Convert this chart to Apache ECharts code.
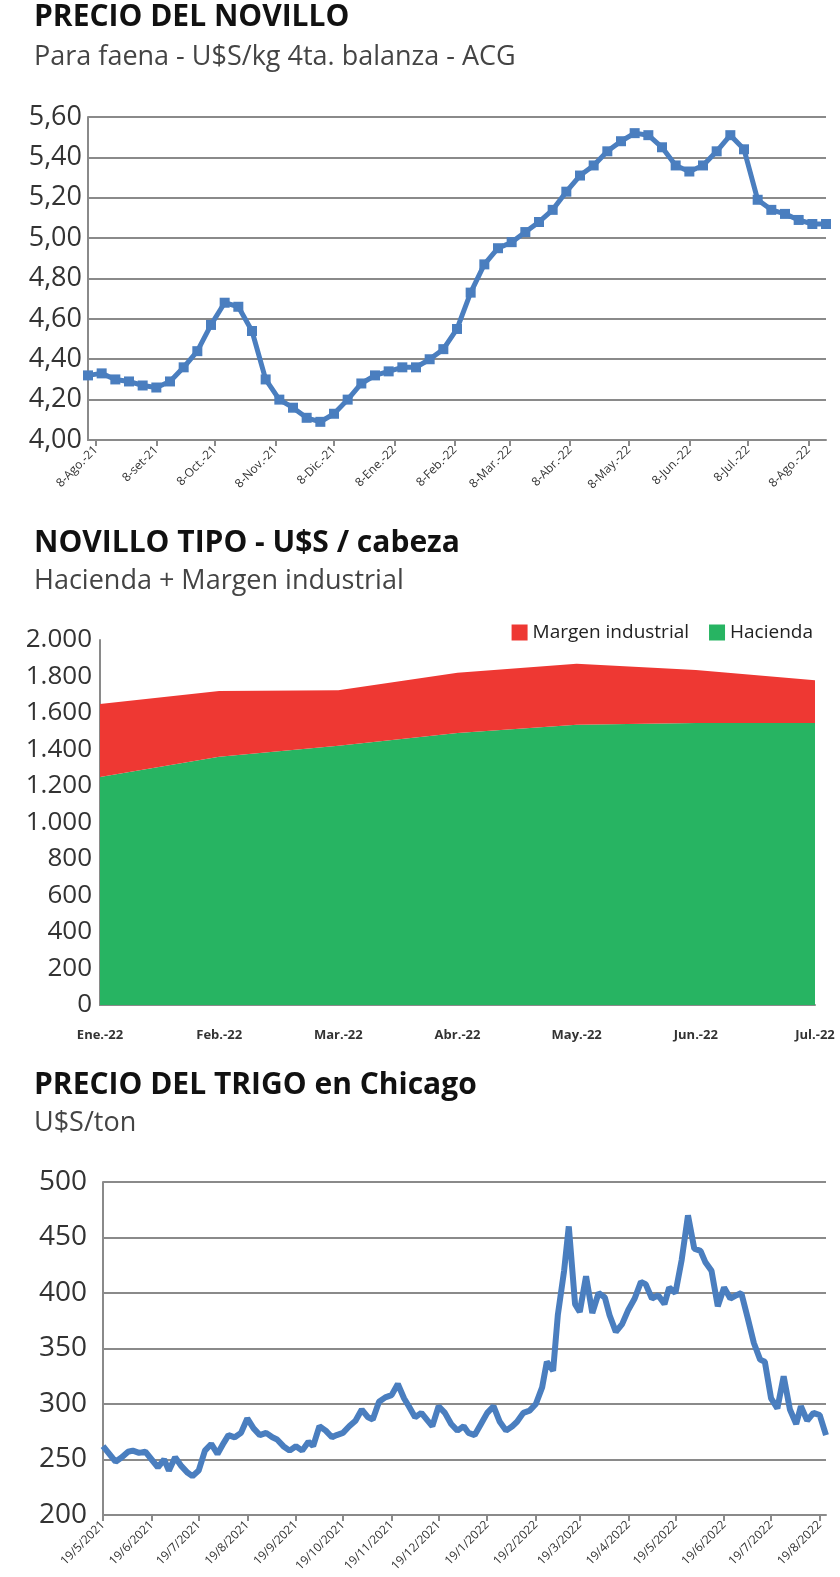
<!DOCTYPE html>
<html><head><meta charset="utf-8">
<script src="https://cdn.jsdelivr.net/npm/echarts@6/dist/echarts.min.js"></script>
<style>html,body{margin:0;background:#fff}#c{width:840px;height:1577px}</style>
</head><body><div id="c"></div>
<script>
// novillo: weekly prices from 4-Ago-21
var novilloStart = '2021-08-04';
var novilloValues = [4.32,4.33,4.30,4.29,4.27,4.26,4.29,4.36,4.44,4.57,4.68,4.66,4.54,4.30,4.20,4.16,4.11,4.09,4.13,4.20,
  4.28,4.32,4.34,4.36,4.36,4.40,4.45,4.55,4.73,4.87,4.95,4.98,5.03,5.08,5.14,5.23,5.31,5.36,5.43,5.48,
  5.52,5.51,5.45,5.36,5.33,5.36,5.43,5.51,5.44,5.19,5.14,5.12,5.09,5.07,5.07];
var monthsEs = ['Ene','Feb','Mar','Abr','May','Jun','Jul','Ago','set','Oct','Nov','Dic'];

// novillo tipo
var tipoCats = ['Ene.-22','Feb.-22','Mar.-22','Abr.-22','May.-22','Jun.-22','Jul.-22'];
var hacienda = [1250,1360,1420,1490,1535,1545,1545];
var margen = [400,360,305,330,335,290,235];

// trigo: 8 readings per month starting 19/5/2021
var trigoStart = '2021-05-19';
var trigoMonths = [
  [262,255,248,252,257,258,256,257],
  [250,243,250,240,252,244,238,235],
  [240,258,264,255,265,272,270,274],
  [287,278,272,274,270,268,262,258],
  [262,258,266,262,280,276,270,272],
  [274,280,285,295,288,286,302,306],
  [308,318,305,298,288,292,285,280],
  [298,292,282,276,280,274,272,282],
  [292,298,284,276,280,284,292,294],
  [300,315,338,330,380,420,460,390],
  [383,415,382,400,396,380,365,372],
  [385,395,410,408,395,398,390,405],
  [400,430,470,440,438,428,420,388],
  [405,395,398,400,378,355,340,338],
  [305,296,325,295,282,298,285,292],
  [290,272]
];

function dayList(start, n) {
  var d = new Date(start + 'T12:00:00Z'), out = [];
  for (var i = 0; i < n; i++) { out.push(new Date(d.getTime() + i * 864e5)); }
  return out;
}
// novillo daily categories
var novDays = dayList(novilloStart, 7 * (novilloValues.length - 1) + 1);
var novCats = novDays.map(function (d) { return d.toISOString().slice(0, 10); });
var novData = novCats.map(function () { return null; });
novilloValues.forEach(function (v, i) { novData[i * 7] = v; });

// trigo daily categories
var trDays = dayList(trigoStart, 462);
var trCats = trDays.map(function (d) { return d.toISOString().slice(0, 10); });
var trData = trCats.map(function () { return null; });
trigoMonths.forEach(function (vals, m) {
  var s = new Date(Date.UTC(2021, 4 + m, 19, 12));
  var e = new Date(Date.UTC(2021, 5 + m, 19, 12));
  var len = (e - s) / 864e5;
  vals.forEach(function (v, k) {
    var idx = Math.round((s - trDays[0]) / 864e5 + k * len / 8);
    if (idx < trData.length) trData[idx] = v;
  });
});

var font = "'Liberation Sans Narrow', 'Open Sans', sans-serif";
function isDay(n) { return function (i, val) { return +val.slice(8, 10) === n; }; }
var grey = '#8a8a8a';
var blue = '#4a7ebf';

var chart = echarts.init(document.getElementById('c'));
chart.setOption({
  animation: false,
  textStyle: { fontFamily: font },
  graphic: [
    { type: 'text', left: 34, top: 2, style: { text: 'PRECIO DEL NOVILLO', font: 'bold 30px Open Sans', fill: '#111' } },
    { type: 'text', left: 34, top: 44, style: { text: 'Para faena - U$S/kg 4ta. balanza - ACG', font: '27px ' + font, fill: '#444' } },
    { type: 'text', left: 34, top: 528, style: { text: 'NOVILLO TIPO - U$S / cabeza', font: 'bold 30px Open Sans', fill: '#111' } },
    { type: 'text', left: 34, top: 568, style: { text: 'Hacienda + Margen industrial', font: '27px ' + font, fill: '#444' } },
    { type: 'text', left: 34, top: 1070, style: { text: 'PRECIO DEL TRIGO en Chicago', font: 'bold 30px Open Sans', fill: '#111' } },
    { type: 'text', left: 34, top: 1110, style: { text: 'U$S/ton', font: '27px ' + font, fill: '#444' } }
  ],
  legend: {
    right: 22, top: 618, itemWidth: 16, itemHeight: 16, itemGap: 20, icon: 'rect',
    data: ['Margen industrial', 'Hacienda'],
    textStyle: { fontSize: 19, fontFamily: font, color: '#222' }
  },
  grid: [
    { left: 88, right: 14, top: 117, height: 323 },
    { left: 100, right: 25, top: 640, height: 365 },
    { left: 103, right: 14, top: 1182, height: 333 }
  ],
  xAxis: [
    { gridIndex: 0, type: 'category', data: novCats, boundaryGap: false,
      axisLine: { lineStyle: { color: grey, width: 2 } },
      axisTick: { interval: isDay(8), length: 6, lineStyle: { color: grey, width: 2 } },
      axisLabel: { interval: isDay(8), rotate: 45, fontSize: 12, color: '#333',
        formatter: function (v) { var m = +v.slice(5, 7) - 1; return '8-' + monthsEs[m] + (m === 8 ? '' : '.') + '-' + v.slice(2, 4); } } },
    { gridIndex: 1, type: 'category', data: tipoCats, boundaryGap: false,
      axisLine: { lineStyle: { color: grey, width: 2 } }, axisTick: { show: false },
      axisLabel: { fontSize: 13, fontWeight: 'bold', color: '#333', margin: 24 } },
    { gridIndex: 2, type: 'category', data: trCats, boundaryGap: false,
      axisLine: { lineStyle: { color: grey, width: 2 } },
      axisTick: { interval: isDay(19), length: 6, lineStyle: { color: grey, width: 2 } },
      axisLabel: { interval: isDay(19), rotate: 45, fontSize: 12, color: '#333',
        formatter: function (v) { return '19/' + (+v.slice(5, 7)) + '/' + v.slice(0, 4); } } }
  ],
  yAxis: [
    { gridIndex: 0, min: 4, max: 5.6, interval: 0.2,
      axisLine: { show: true, lineStyle: { color: grey, width: 2 } },
      splitLine: { lineStyle: { color: grey, width: 2 } },
      axisLabel: { fontSize: 27, color: '#333', margin: 6, formatter: function (v) { return v.toFixed(2).replace('.', ','); } } },
    { gridIndex: 1, min: 0, max: 2000, interval: 200,
      axisLine: { show: true, lineStyle: { color: grey, width: 2 } },
      splitLine: { show: false },
      axisLabel: { fontSize: 26, color: '#333', margin: 8, formatter: function (v) { return v >= 1000 ? (v / 1000).toFixed(3) : v; } } },
    { gridIndex: 2, min: 200, max: 500, interval: 50,
      axisLine: { show: true, lineStyle: { color: grey, width: 2 } },
      splitLine: { lineStyle: { color: grey, width: 2 } },
      axisLabel: { fontSize: 28, color: '#333', margin: 16 } }
  ],
  series: [
    { name: 'novillo', type: 'line', xAxisIndex: 0, yAxisIndex: 0, data: novData, connectNulls: true,
      showAllSymbol: true, symbol: 'rect', symbolSize: 10, lineStyle: { color: blue, width: 5 }, itemStyle: { color: blue } },
    { name: 'Hacienda', type: 'line', xAxisIndex: 1, yAxisIndex: 1, stack: 't', data: hacienda,
      symbol: 'none', lineStyle: { width: 0 }, areaStyle: { color: '#27b462', opacity: 1 }, itemStyle: { color: '#27b462' } },
    { name: 'Margen industrial', type: 'line', xAxisIndex: 1, yAxisIndex: 1, stack: 't', data: margen,
      symbol: 'none', lineStyle: { width: 0 }, areaStyle: { color: '#ee3833', opacity: 1 }, itemStyle: { color: '#ee3833' } },
    { name: 'trigo', type: 'line', xAxisIndex: 2, yAxisIndex: 2, data: trData, connectNulls: true,
      symbol: 'none', lineStyle: { color: blue, width: 6 } }
  ]
});
</script></body></html>
